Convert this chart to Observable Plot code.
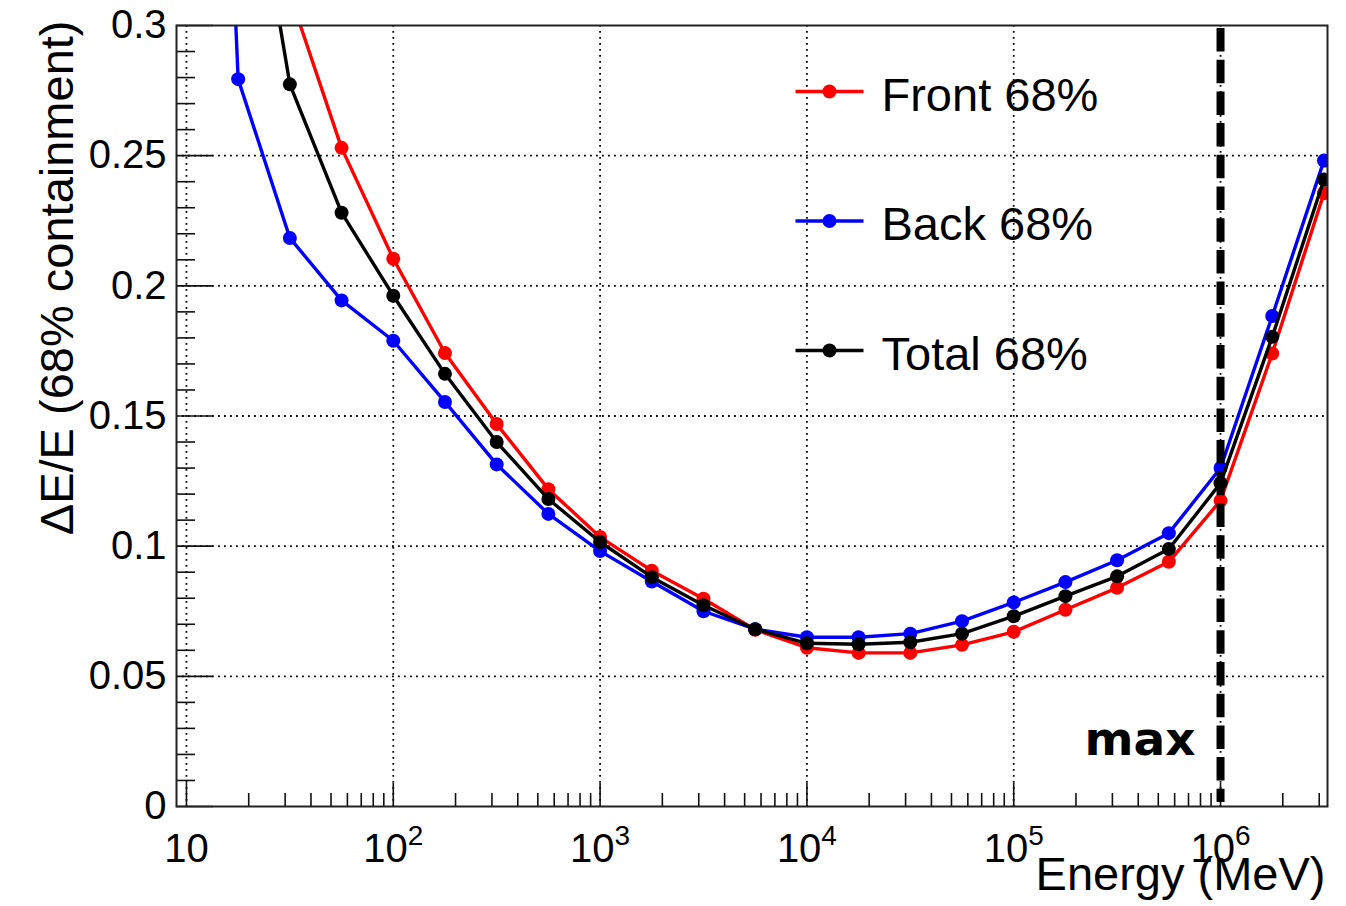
<!DOCTYPE html>
<html><head><meta charset="utf-8">
<script src="https://cdn.jsdelivr.net/npm/d3@7"></script>
<script src="https://cdn.jsdelivr.net/npm/@observablehq/plot@0.6"></script>
<style>
body{margin:0;background:#fff;}
#chart{width:1346px;height:906px;overflow:hidden;}
</style></head><body><div id="chart"></div>
<script>
// Energy bins (MeV), quarter decades
const energy = [10, 17.78, 31.62, 56.23, 100, 177.8, 316.2, 562.3, 1000, 1778, 3162, 5623, 10000, 17783, 31623, 56234, 100000, 177828, 316228, 562341, 1000000, 1778279, 3162278];
const front = [null, 0.42, 0.312, 0.253, 0.2104, 0.1742, 0.1469, 0.1219, 0.1035, 0.0906, 0.0798, 0.0679, 0.0610, 0.0590, 0.0590, 0.0621, 0.0671, 0.0756, 0.0840, 0.0940, 0.1175, 0.1740, 0.2356];
const back  = [0.74, 0.2794, 0.2184, 0.1944, 0.1789, 0.1554, 0.1314, 0.1124, 0.0981, 0.0864, 0.0750, 0.0681, 0.0650, 0.0650, 0.0664, 0.0712, 0.0784, 0.0862, 0.0946, 0.1050, 0.1300, 0.1884, 0.2481];
const total = [null, 0.396, 0.2774, 0.2281, 0.1962, 0.1662, 0.1400, 0.1181, 0.1016, 0.0881, 0.0773, 0.0681, 0.0627, 0.0623, 0.0631, 0.0664, 0.0731, 0.0808, 0.0884, 0.0989, 0.1242, 0.1804, 0.2408];

const seriesNames  = ["Front 68%", "Back 68%", "Total 68%"];
const seriesColors = ["#ff0000", "#0000ff", "#000000"];
const seriesValues = [front, back, total];

const xMajorTicks = [10, 100, 1000, 10000, 100000, 1000000];
const xMajorLabels = ["10", "10^2", "10^3", "10^4", "10^5", "10^6"];
const xMinorTicks = [20,30,40,50,60,70,80,90,200,300,400,500,600,700,800,900,2000,3000,4000,5000,6000,7000,8000,9000,20000,30000,40000,50000,60000,70000,80000,90000,200000,300000,400000,500000,600000,700000,800000,900000,2000000,3000000];
const yMajorTicks = [0, 0.05, 0.1, 0.15, 0.2, 0.25, 0.3];
const yMajorLabels = ["0", "0.05", "0.1", "0.15", "0.2", "0.25", "0.3"];
const yMinorTicks = [0.01,0.02,0.03,0.04,0.06,0.07,0.08,0.09,0.11,0.12,0.13,0.14,0.16,0.17,0.18,0.19,0.21,0.22,0.23,0.24,0.26,0.27,0.28,0.29];
const yGrid = [0.05, 0.1, 0.15, 0.2, 0.25];

const maxEnergy = 1000000;
const maxLabel = "max";
const xLabel = "Energy (MeV)";
const yLabel = "ΔE/E (68% containment)";

const rows = [];
seriesNames.forEach((name, s) => {
  energy.forEach((e, i) => {
    if (seriesValues[s][i] != null) rows.push({series: name, energy: e, value: seriesValues[s][i]});
  });
});

const W = 1346, H = 906, ML = 176, MT = 25, MR = 19, MB = 100;
const gridStyle = {stroke: "#000", strokeOpacity: 1, strokeWidth: 1.8, strokeDasharray: "1.8,4.2"};
const lineSymbol = {draw(ctx) { ctx.moveTo(-34, 0); ctx.lineTo(34, 0); }};
const xFmt = d => { const k = xMajorTicks.findIndex(t => Math.abs(t - d) / t < 1e-6); return k < 0 ? "" : xMajorLabels[k]; };
const yFmt = d => { const k = yMajorTicks.findIndex(t => Math.abs(t - d) < 1e-9); return k < 0 ? "" : yMajorLabels[k]; };

const marks = [
  Plot.gridY(yGrid, gridStyle),
  Plot.gridX(xMajorTicks, gridStyle),
  Plot.axisY({ticks: yMajorTicks, tickSize: -37, fill: "none", label: null, stroke: "#111", strokeWidth: 1.6}),
  Plot.axisY({ticks: yMinorTicks, tickSize: -19, fill: "none", label: null, stroke: "#111", strokeWidth: 1.6}),
  Plot.axisY({ticks: yMajorTicks, tickSize: 0, tickPadding: 10, tickFormat: yFmt, label: null, fontSize: 40}),
  Plot.axisX({ticks: xMajorTicks, tickSize: -23, fill: "none", label: null, stroke: "#111", strokeWidth: 1.6}),
  Plot.axisX({ticks: xMinorTicks, tickSize: -13, fill: "none", label: null, stroke: "#111", strokeWidth: 1.6}),
  Plot.axisX({ticks: xMajorTicks, tickSize: 0, tickPadding: 27, tickFormat: xFmt, label: null, fontSize: 40})
];

seriesNames.forEach((name, s) => {
  const data = rows.filter(r => r.series === name);
  marks.push(Plot.line(data, {x: "energy", y: "value", stroke: seriesColors[s], strokeWidth: 3.4, clip: "frame"}));
  marks.push(Plot.dot(data, {x: "energy", y: "value", fill: seriesColors[s], r: 7, clip: "frame"}));
  // legend entry
  const ly = 91 + s * 129.5 - MT;
  marks.push(Plot.dot([name], {frameAnchor: "top-left", dx: 829 - ML, dy: ly, symbol: lineSymbol, stroke: seriesColors[s], strokeWidth: 3.4, fill: "none"}));
  marks.push(Plot.dot([name], {frameAnchor: "top-left", dx: 829 - ML, dy: ly, r: 7, fill: seriesColors[s]}));
  marks.push(Plot.text([name], {frameAnchor: "top-left", dx: 881 - ML, dy: ly + 19, text: d => d, textAnchor: "start", lineAnchor: "bottom", fontSize: 47, fill: "#000"}));
});

marks.push(Plot.ruleX([maxEnergy], {stroke: "#000", strokeWidth: 8, strokeDasharray: "23.5,8.2", insetTop: 3, insetBottom: 4}));
marks.push(Plot.text([maxLabel], {x: () => maxEnergy, frameAnchor: "bottom", dx: -25, dy: -52, text: d => d, textAnchor: "end", lineAnchor: "bottom", fontSize: 47, fontWeight: "bold", fontFamily: "DejaVu Sans", fill: "#000"}));
marks.push(Plot.text([xLabel], {frameAnchor: "bottom-right", dx: -2, dy: 83, text: d => d, textAnchor: "end", lineAnchor: "bottom", fontSize: 47, fill: "#000"}));
marks.push(Plot.text([yLabel], {frameAnchor: "top-left", dx: 72 - ML, dy: 20 - MT, rotate: -90, text: d => d, textAnchor: "end", lineAnchor: "bottom", fontSize: 47, fill: "#000"}));
marks.push(Plot.frame({stroke: "#222", strokeWidth: 2}));

const chart = Plot.plot({
  width: W, height: H,
  marginLeft: ML, marginTop: MT, marginRight: MR, marginBottom: MB,
  style: {fontFamily: "'Liberation Sans', Arial, sans-serif", fontSize: "40px", background: "#fff", color: "#000", overflow: "visible"},
  x: {type: "log", domain: [8.95, 3.29e6]},
  y: {domain: [0, 0.3]},
  marks
});
document.getElementById("chart").appendChild(chart);

// superscripts on x tick labels
d3.select(chart).selectAll('g[aria-label="x-axis tick label"] text').each(function() {
  const t = d3.select(this);
  const s = t.text();
  if (s.includes("^")) {
    const [base, exp] = s.split("^");
    t.text(base);
    t.append("tspan").attr("dy", "-0.6em").attr("font-size", "0.7em").text(exp);
  }
});
</script></body></html>
